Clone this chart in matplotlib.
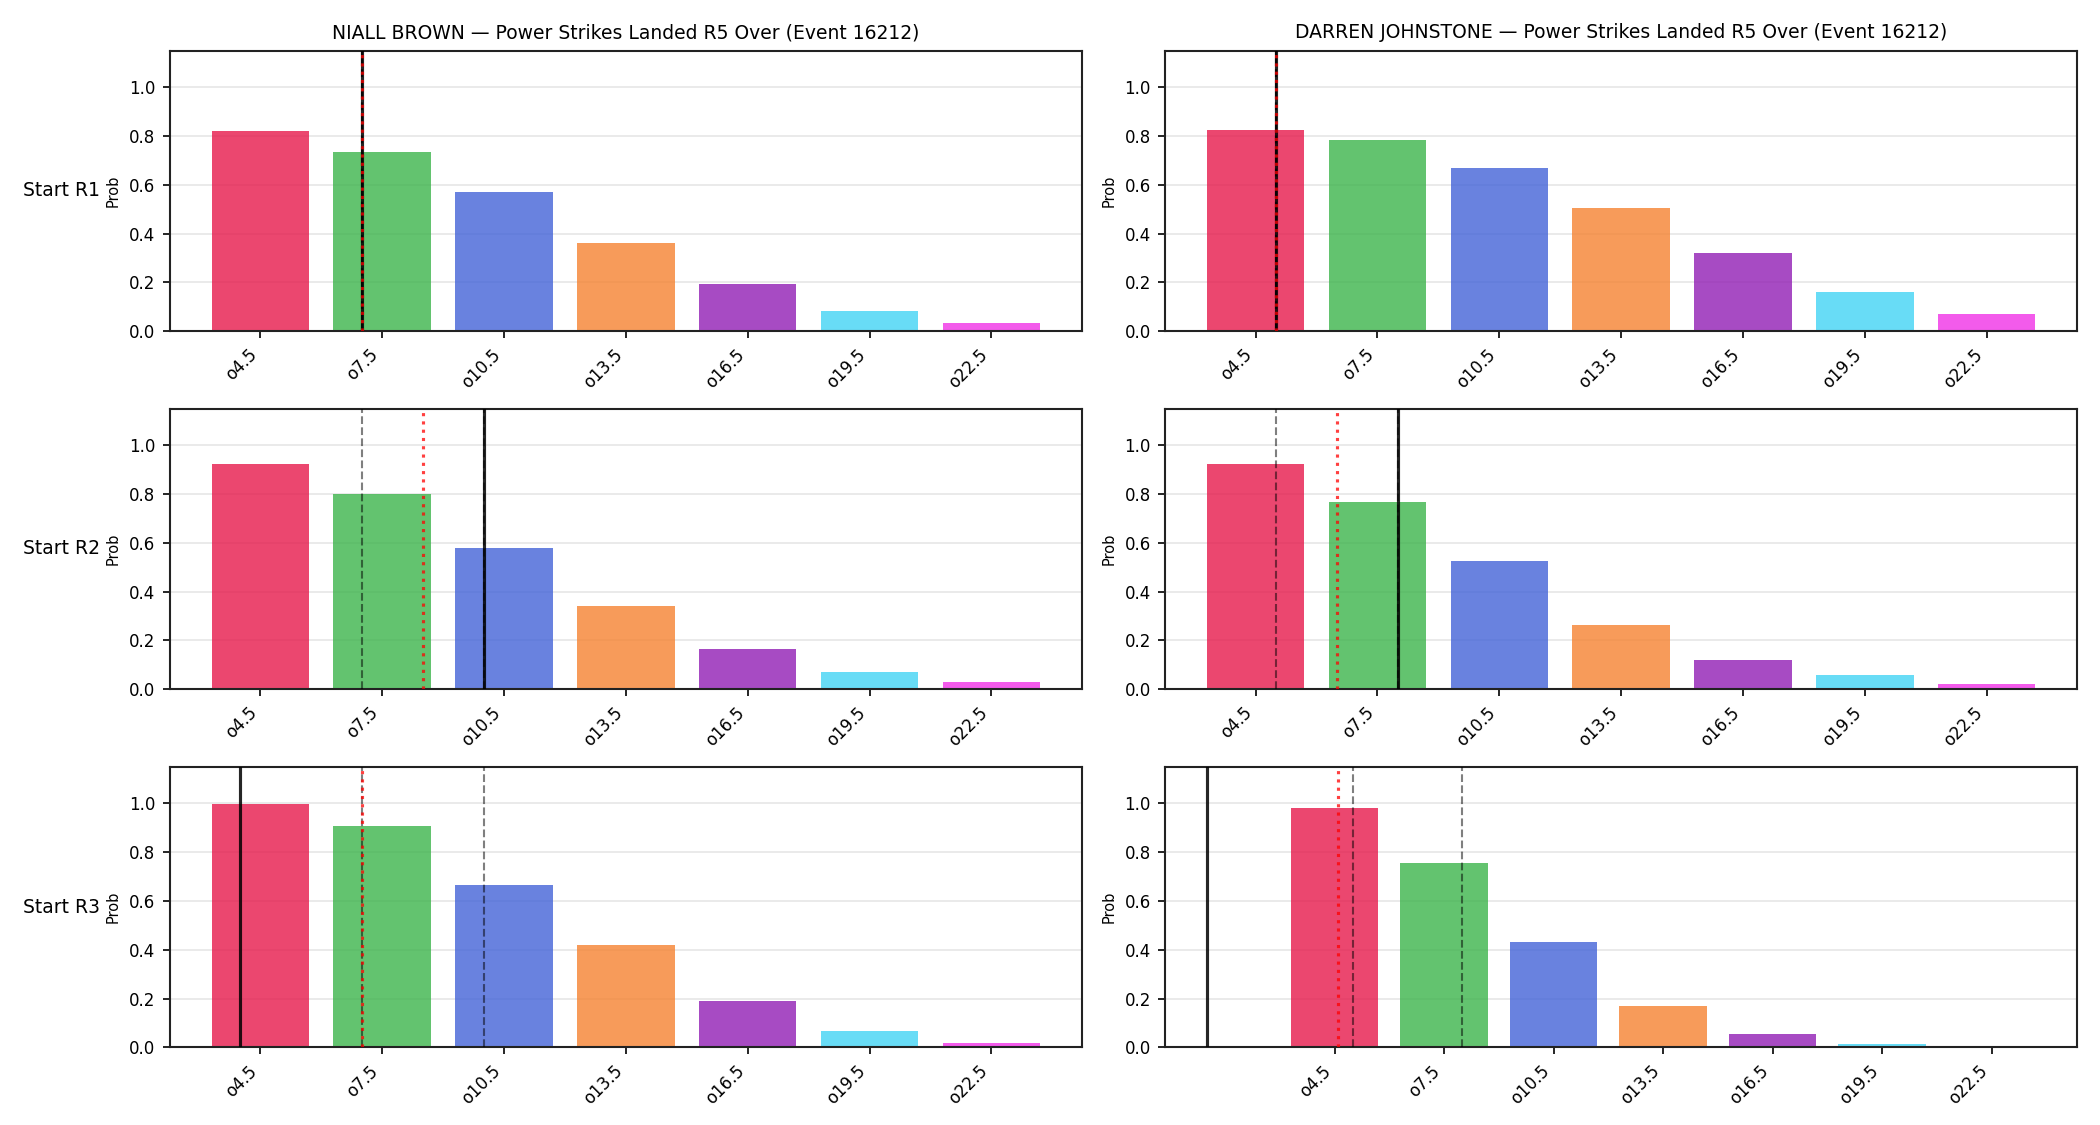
import matplotlib
matplotlib.use("Agg")
import matplotlib.pyplot as plt

# ---- data ----
thresholds = [4.5, 7.5, 10.5, 13.5, 16.5, 19.5, 22.5]
tick_labels = ["o4.5", "o7.5", "o10.5", "o13.5", "o16.5", "o19.5", "o22.5"]
fighters = ["NIALL BROWN", "DARREN JOHNSTONE"]
row_labels = ["Start R1", "Start R2", "Start R3"]
market = "Power Strikes Landed R5 Over (Event 16212)"

# probabilities [fighter][row]
nb_r1 = [0.821, 0.735, 0.570, 0.361, 0.193, 0.082, 0.033]
nb_r2 = [0.924, 0.801, 0.580, 0.343, 0.163, 0.069, 0.029]
nb_r3 = [0.996, 0.909, 0.664, 0.419, 0.190, 0.067, 0.018]
dj_r1 = [0.826, 0.784, 0.669, 0.505, 0.320, 0.160, 0.070]
dj_r2 = [0.924, 0.768, 0.525, 0.262, 0.119, 0.057, 0.020]
dj_r3 = [0.980, 0.754, 0.431, 0.169, 0.056, 0.012, 0.006]
probs = [[nb_r1, nb_r2, nb_r3], [dj_r1, dj_r2, dj_r3]]

# reference lines (in strike counts)
current = [[7, 10, 4], [5, 8, 1]]          # solid black
projection = [[7, 8.5, 7], [5, 6.5, 4.6]]   # red dotted
band = [[(7, 7), (7, 10), (7, 10)], [(5, 5), (5, 8), (5, 8)]]  # grey dashed

colors = ["#e6194B", "#3cb44b", "#4363d8", "#f58231", "#911eb4", "#42d4f4", "#f032e6"]

fig, axes = plt.subplots(3, 2, figsize=(14, 7.5), dpi=150)
fig.subplots_adjust(left=0.081, right=0.989, top=0.955, bottom=0.069,
                    wspace=0.092, hspace=0.277)

for c in range(2):
    for r in range(3):
        ax = axes[r, c]
        ax.bar(thresholds, probs[c][r], width=2.4, color=colors, alpha=0.8,
               linewidth=0, zorder=2)
        ax.axvline(current[c][r], color="black", linestyle="-", linewidth=1.5,
                   alpha=0.85, zorder=3)
        for b in band[c][r]:
            ax.axvline(b, color="black", linestyle="--", linewidth=1.0,
                       alpha=0.5, zorder=4)
        ax.axvline(projection[c][r], color="red", linestyle=":", linewidth=1.5,
                   alpha=0.75, zorder=5)
        ax.set_ylim(0, 1.15)
        ax.set_xticks(thresholds)
        ax.set_xticklabels(tick_labels, rotation=45, ha="right", fontsize=8)
        ax.tick_params(axis="y", labelsize=8)
        ax.set_ylabel("Prob", fontsize=7)
        ax.grid(axis="y", color="#e6e6e6", linewidth=0.8, zorder=0)
        ax.set_axisbelow(True)
        for s in ax.spines.values():
            s.set_color("#222222")
            s.set_linewidth(1.0)
        if r == 0:
            ax.set_title(f"{fighters[c]} \u2014 {market}", fontsize=9)
        if c == 0:
            pos = ax.get_position()
            fig.text(0.011, (pos.y0 + pos.y1) / 2, row_labels[r], fontsize=9,
                     ha="left", va="center")

fig.savefig("out.png", dpi=150)
